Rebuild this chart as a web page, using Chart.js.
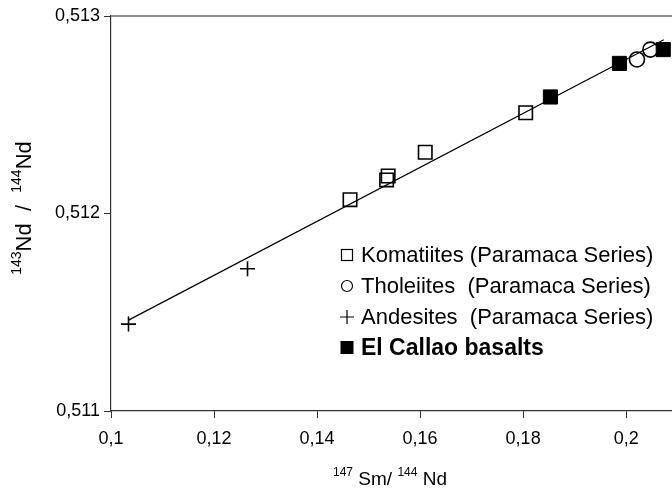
<!DOCTYPE html>
<html>
<head>
<meta charset="utf-8">
<script src="https://cdn.jsdelivr.net/npm/chart.js@4.4.1/dist/chart.umd.min.js"></script>
<style>
  html, body { margin: 0; padding: 0; background: #fff; overflow: hidden; }
  canvas { display: block; }
</style>
</head>
<body>
<canvas id="isoChart" width="672" height="491"></canvas>
<script>
// Sm-Nd data
var komX = [0.1464, 0.1535, 0.1538, 0.1610, 0.1805];
var komY = [0.51207, 0.51217, 0.51219, 0.51231, 0.51251];
var tholX = [0.2021, 0.2047];
var tholY = [0.51278, 0.51283];
var andX = [0.1034, 0.1265];
var andY = [0.51144, 0.51172];
var callX = [0.1853, 0.1987, 0.2072];
var callY = [0.51259, 0.51276, 0.51283];
var lineX = [0.1034, 0.2073];
var lineY = [0.51146, 0.51288];

var xTicks = [0.1, 0.12, 0.14, 0.16, 0.18, 0.2];
var yTicks = [0.511, 0.512, 0.513];

var legendItems = [
  { sym: 'square', text: 'Komatiites (Paramaca Series)', bold: false },
  { sym: 'circle', text: 'Tholeiites  (Paramaca Series)', bold: false },
  { sym: 'cross', text: 'Andesites  (Paramaca Series)', bold: false },
  { sym: 'filled', text: 'El Callao basalts', bold: true }
];

function pts(xs, ys) {
  return xs.map(function (x, i) { return { x: x, y: ys[i] }; });
}

function fmt(v, d) {
  return Number(v).toFixed(d).replace(/0+$/, '').replace(/\.$/, '').replace('.', ',');
}

var FONT = '"Liberation Sans", Arial, sans-serif';

// draws text made of pieces [text, size, raise], centred on cx
function drawPieces(ctx, parts, cx, cy) {
  var total = 0;
  parts.forEach(function (p) { ctx.font = p[1] + 'px ' + FONT; total += ctx.measureText(p[0]).width; });
  var x = cx - total / 2;
  parts.forEach(function (p) {
    ctx.font = p[1] + 'px ' + FONT;
    ctx.fillText(p[0], x, cy + p[2]);
    x += ctx.measureText(p[0]).width;
  });
}

var overlay = {
  id: 'overlay',
  afterDraw: function (chart) {
    var ctx = chart.ctx;
    var area = chart.chartArea;
    ctx.save();

    // grey frame line on top
    ctx.strokeStyle = '#8c8c8c';
    ctx.lineWidth = 2;
    ctx.beginPath();
    ctx.moveTo(area.left, area.top);
    ctx.lineTo(chart.width, area.top);
    ctx.stroke();

    // axis titles
    ctx.fillStyle = '#000';
    ctx.textBaseline = 'alphabetic';
    ctx.textAlign = 'left';
    drawPieces(ctx, [['147', 12, -9], [' Sm/ ', 19, 0], ['144', 12, -9], [' Nd', 19, 0]], 390, 485);

    ctx.translate(31, 208);
    ctx.rotate(-Math.PI / 2);
    drawPieces(ctx, [['143', 14, -10], ['Nd  /  ', 22, 0], ['144', 14, -10], ['Nd', 22, 0]], 0, 0);
    ctx.setTransform(1, 0, 0, 1, 0, 0);

    // legend inside the plot
    var lx = 347, ly = 255, gap = 31;
    legendItems.forEach(function (it, i) {
      var cy = ly + i * gap;
      ctx.strokeStyle = '#000';
      ctx.fillStyle = '#000';
      ctx.lineWidth = 1.2;
      if (it.sym === 'square') {
        ctx.strokeRect(lx - 5.5, cy - 5.5, 11, 11);
      } else if (it.sym === 'circle') {
        ctx.beginPath();
        ctx.arc(lx, cy, 5.5, 0, Math.PI * 2);
        ctx.stroke();
      } else if (it.sym === 'cross') {
        ctx.beginPath();
        ctx.moveTo(lx - 7, cy); ctx.lineTo(lx + 7, cy);
        ctx.moveTo(lx, cy - 7); ctx.lineTo(lx, cy + 7);
        ctx.stroke();
      } else {
        ctx.fillRect(lx - 6.5, cy - 7, 13, 13);
      }
      ctx.font = it.bold ? 'bold 23px ' + FONT : '22px ' + FONT;
      ctx.textBaseline = 'middle';
      ctx.fillText(it.text, 361, cy + 1);
    });
    ctx.restore();
  }
};

var ctx = document.getElementById('isoChart').getContext('2d');

new Chart(ctx, {
  type: 'scatter',
  data: {
    datasets: [
      {
        label: 'Komatiites (Paramaca Series)',
        data: pts(komX, komY),
        pointStyle: 'rect', pointRadius: 9.5, borderWidth: 1.6,
        borderColor: '#000', backgroundColor: 'rgba(255,255,255,0)'
      },
      {
        label: 'Tholeiites (Paramaca Series)',
        data: pts(tholX, tholY),
        pointStyle: 'circle', pointRadius: 7.5, borderWidth: 1.6,
        borderColor: '#000', backgroundColor: 'rgba(255,255,255,0)'
      },
      {
        label: 'Andesites (Paramaca Series)',
        data: pts(andX, andY),
        pointStyle: 'cross', pointRadius: 7.5, borderWidth: 1.6,
        borderColor: '#000'
      },
      {
        label: 'El Callao basalts',
        data: pts(callX, callY),
        pointStyle: 'rect', pointRadius: 10, borderWidth: 1,
        borderColor: '#000', backgroundColor: '#000'
      },
      {
        type: 'line',
        label: 'isochron',
        data: pts(lineX, lineY),
        showLine: true, borderColor: '#000', borderWidth: 1.2,
        pointRadius: 0, fill: false
      }
    ]
  },
  options: {
    responsive: false,
    animation: false,
    layout: { autoPadding: false, padding: { left: 0, top: 16, right: 0, bottom: 0 } },
    plugins: {
      legend: { display: false },
      tooltip: { enabled: false }
    },
    scales: {
      x: {
        type: 'linear',
        min: 0.1,
        max: 0.2089,
        afterFit: function (s) {
          s.height = 80;
          s.paddingLeft = 0; s.paddingRight = 0;
        },
        afterBuildTicks: function (s) { s.ticks = xTicks.map(function (v) { return { value: v }; }); },
        grid: { drawOnChartArea: false, tickLength: 7, tickColor: '#333' },
        border: { color: '#333', width: 1.2 },
        ticks: {
          padding: 10,
          color: '#000',
          font: { family: FONT, size: 18 },
          callback: function (v) { return fmt(v, 2); }
        }
      },
      y: {
        type: 'linear',
        min: 0.511,
        max: 0.513,
        afterFit: function (s) {
          s.width = 111;
          s.paddingTop = 0; s.paddingBottom = 0;
        },
        afterBuildTicks: function (s) { s.ticks = yTicks.map(function (v) { return { value: v }; }); },
        grid: { drawOnChartArea: false, tickLength: 7, tickColor: '#333' },
        border: { color: '#333', width: 1.2 },
        ticks: {
          padding: 4,
          color: '#000',
          font: { family: FONT, size: 18 },
          callback: function (v) { return fmt(v, 3); }
        }
      }
    }
  },
  plugins: [overlay]
});
</script>
</body>
</html>
